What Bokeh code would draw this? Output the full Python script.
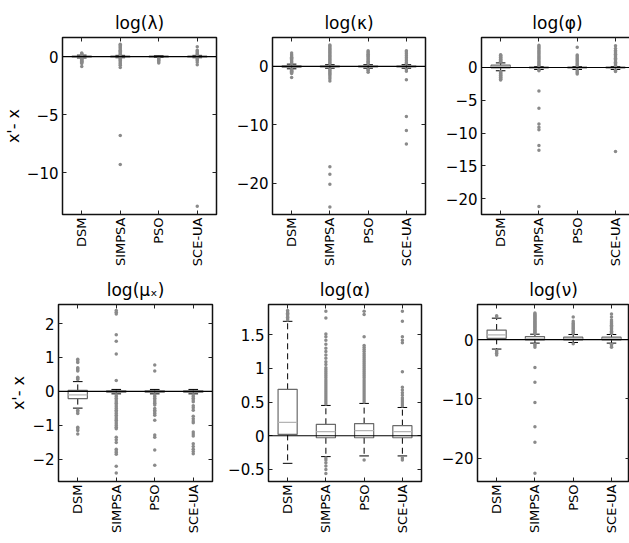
import math
from bokeh.plotting import figure
from bokeh.layouts import column, row
from bokeh.models import FixedTicker, Span, ColumnDataSource, LinearAxis
from bokeh.embed import file_html
from bokeh.resources import INLINE

CATEGORIES = ["DSM", "SIMPSA", "PSO", "SCE-UA"]

TITLES = ["log(λ)", "log(κ)", "log(φ)", "log(μₓ)", "log(α)", "log(ν)"]

# box statistics per category: [lower whisker, q1, median, q3, upper whisker]
LAM_STATS = [[-0.12, -0.04, 0.0, 0.04, 0.12], [-0.1, -0.03, 0.0, 0.03, 0.1],
             [-0.08, -0.03, 0.0, 0.03, 0.08], [-0.1, -0.03, 0.0, 0.03, 0.1]]
LAM_OUT = [[0.3, 0.25, 0.2, 0.16, -0.15, -0.2, -0.25, -0.3, -0.35, -0.4, -0.45, -0.5, -0.6, -0.85],
           [1.05, 0.95, 0.85, 0.75, 0.65, 0.55, 0.45, 0.35, 0.25, 0.17, -0.15, -0.25, -0.35, -0.45,
            -0.55, -0.65, -0.75, -0.95, -6.8, -9.3],
           [-0.12, -0.2, -0.28, -0.35, -0.45, -0.55],
           [0.85, 0.55, 0.45, 0.35, 0.25, 0.17, -0.15, -0.25, -0.35, -0.5, -0.7, -12.9]]

KAP_STATS = [[-0.4, -0.1, 0.0, 0.1, 0.4], [-0.3, -0.08, 0.0, 0.08, 0.3],
             [-0.3, -0.08, 0.0, 0.08, 0.3], [-0.3, -0.08, 0.0, 0.08, 0.3]]
KAP_OUT = [[2.3, 2.0, 1.8, 1.6, 1.4, 1.2, 1.0, 0.8, 0.6, 0.5, -0.5, -0.6, -0.7, -0.8, -0.9, -1.0, -1.2, -1.9],
           [3.7, 3.5, 3.3, 3.1, 2.9, 2.7, 2.5, 2.3, 2.1, 1.9, 1.7, 1.5, 1.3, 1.1, 0.9, 0.7, 0.5,
            -0.5, -0.7, -0.9, -1.1, -1.3, -1.5, -1.8, -2.1, -2.5, -17.2, -18.5, -20.2, -24.1],
           [2.7, 2.5, 2.3, 2.1, 1.9, 1.7, 1.5, 1.3, 1.1, 0.9, 0.7, 0.5, -0.5, -0.7, -1.0],
           [2.7, 2.5, 2.2, 1.9, 1.6, 1.3, 1.0, 0.7, 0.5, -0.5, -0.8, -2.3, -8.6, -11.0, -13.3]]

PHI_STATS = [[-0.5, -0.05, 0.15, 0.35, 0.7], [-0.3, -0.05, 0.0, 0.05, 0.15],
             [-0.3, -0.05, 0.0, 0.05, 0.15], [-0.3, -0.05, 0.0, 0.05, 0.15]]
PHI_OUT = [[0.85, 0.95, 1.05, 1.15, 1.25, 1.35, 1.45, 1.55, 1.65, 1.75, 1.85, 1.95,
            -0.6, -0.7, -0.8, -0.9, -1.0, -1.1, -1.2, -1.3, -1.4, -1.5, -1.6, -1.7, -1.8, -1.9],
           [3.4, 3.2, 3.0, 2.8, 2.6, 2.4, 2.2, 2.0, 1.8, 1.6, 1.4, 1.2, 1.0, 0.8, 0.6, 0.4, 0.25,
            -0.4, -0.5, -3.6, -6.2, -8.6, -9.1, -9.5, -11.9, -12.6, -21.2],
           [3.1, 1.9, 1.7, 1.5, 1.3, 1.1, 0.9, 0.7, 0.5, 0.3, -0.4, -0.6, -0.8, -1.0],
           [3.3, 2.9, 2.6, 2.4, 2.2, 2.0, 1.8, 1.6, 1.4, 1.2, 1.0, 0.8, 0.6, 0.4, 0.25,
            -0.4, -0.5, -0.6, -12.8]]

MU_STATS = [[-0.49, -0.21, -0.1, 0.03, 0.29], [-0.07, -0.02, 0.0, 0.02, 0.06],
            [-0.07, -0.02, 0.0, 0.02, 0.06], [-0.07, -0.02, 0.0, 0.02, 0.06]]
MU_OUT = [[0.35, 0.38, 0.42, 0.6, 0.63, 0.67, 0.7, 0.85, 0.9, 0.95,
           -0.55, -0.6, -0.65, -1.05, -1.1, -1.15, -1.25],
          [0.32, 1.1, 1.48, 1.67, 2.28, 2.33, 2.38,
           -0.1, -0.15, -0.2, -0.25, -0.3, -0.35, -0.4, -0.45, -0.5, -0.55, -0.6, -0.65, -0.7,
           -0.75, -0.8, -0.85, -0.9, -0.95, -1.0, -1.05, -1.1, -1.35, -1.42, -1.5,
           -1.7, -1.75, -1.8, -1.85, -2.2, -2.4],
          [0.6, 0.78, -0.1, -0.15, -0.2, -0.25, -0.3, -0.35, -0.4, -0.5, -0.55, -0.6, -0.65, -0.7,
           -0.85, -1.28, -1.35, -1.72, -2.17],
          [-0.1, -0.15, -0.2, -0.25, -0.3, -0.42, -0.48, -0.55, -0.73, -0.8, -0.87, -0.92,
           -1.19, -1.25, -1.31, -1.54, -1.62, -1.7, -1.77, -1.83]]

ALP_STATS = [[-0.41, 0.02, 0.2, 0.69, 1.7], [-0.31, -0.03, 0.06, 0.17, 0.45],
             [-0.3, -0.03, 0.075, 0.18, 0.48], [-0.3, -0.03, 0.06, 0.15, 0.42]]
ALP_OUT = [[1.72, 1.74, 1.76, 1.78, 1.8, 1.82, 1.84, 1.86],
           [0.47, 0.5, 0.53, 0.56, 0.59, 0.62, 0.65, 0.68, 0.71, 0.74, 0.77, 0.8, 0.83, 0.86, 0.89,
            0.92, 0.95, 0.98, 1.01, 1.06, 1.1, 1.15, 1.2, 1.25, 1.3, 1.36, 1.42, 1.47, 1.51,
            1.75, 1.85, -0.33, -0.36, -0.4, -0.45, -0.5, -0.56],
           [0.5, 0.53, 0.56, 0.59, 0.62, 0.65, 0.68, 0.71, 0.74, 0.77, 0.8, 0.83, 0.86, 0.89, 0.92,
            0.95, 0.98, 1.01, 1.04, 1.07, 1.1, 1.13, 1.16, 1.19, 1.22, 1.25, 1.28, 1.31, 1.34,
            1.47, 1.8, 1.85, -0.36],
           [0.44, 0.47, 0.5, 0.53, 0.56, 0.6, 0.64, 0.68, 0.72, 0.95, 1.38, 1.42, 1.47, 1.7, 1.85,
            -0.33, -0.36]]

NU_STATS = [[-1.6, 0.2, 0.8, 1.6, 3.6], [-0.6, -0.05, 0.1, 0.5, 0.9],
            [-0.5, -0.05, 0.1, 0.4, 0.85], [-0.6, -0.05, 0.1, 0.4, 0.85]]
NU_OUT = [[3.8, 4.0, -1.9, -2.1, -2.3, -2.6],
          [1.0, 1.15, 1.3, 1.45, 1.6, 1.75, 1.9, 2.05, 2.2, 2.35, 2.5, 2.65, 2.8, 2.95, 3.1,
           3.25, 3.4, 3.55, 3.7, 3.85, 4.0, 4.15, 4.3, 4.45, -0.8, -1.0, -1.3,
           -4.7, -7.2, -10.6, -14.7, -17.3, -22.5],
          [1.0, 1.2, 1.4, 1.6, 1.8, 2.0, 2.2, 2.4, 2.6, 2.8, 3.1, 3.8, -0.7],
          [1.0, 1.2, 1.4, 1.6, 1.8, 2.0, 2.2, 2.4, 2.6, 2.8, 3.0, 3.3, 3.8, 4.3, -0.8, -1.1, -1.3]]

Y_RANGES = [(-13.6, 1.64), (-25.4, 4.97), (-22.4, 4.57), (-2.65, 2.56), (-0.68, 1.95), (-23.9, 5.9)]
Y_TICKS = [[-10, -5, 0], [-20, -10, 0], [-20, -15, -10, -5, 0], [-2, -1, 0, 1, 2],
           [-0.5, 0, 0.5, 1, 1.5], [-20, -10, 0]]
Y_LABEL = "x'- x"

FONT = "DejaVu Sans"
BOX_COLOR = "#6a6a6a"
MED_COLOR = "#b4b4b4"
OUT_COLOR = "#8a8a8a"


def fmt(t):
    s = ("%g" % t)
    return s.replace("-", "\u2212")


def style_mirror(ax):
    ax.axis_line_color = None
    ax.major_tick_in = 4
    ax.major_tick_out = 0
    ax.major_tick_line_color = "#222222"
    ax.minor_tick_line_color = None
    ax.major_label_text_font_size = "0px"
    ax.major_label_standoff = 0


def make_panel(title, stats, outs, yr, yticks, ylabel, fw, fh, bl, br, bt, bb, xend):
    p = figure(frame_width=fw, frame_height=fh, x_range=(0.5, xend), y_range=yr,
               output_backend="svg", toolbar_location=None, tools="",
               min_border_left=bl, min_border_right=br, min_border_top=bt, min_border_bottom=bb)
    p.xgrid.visible = False
    p.ygrid.visible = False
    p.outline_line_color = "#111111"
    p.outline_line_width = 1.5
    p.background_fill_color = "white"
    p.border_fill_color = "white"

    p.title.text = title
    p.title.align = "center"
    p.title.text_font = FONT
    p.title.text_font_size = "17px"
    p.title.text_font_style = "normal"
    p.title.text_color = "black"

    xs = [i + 1 for i in range(len(CATEGORIES))]
    lo = [s[0] for s in stats]
    q1 = [s[1] for s in stats]
    md = [s[2] for s in stats]
    q3 = [s[3] for s in stats]
    hi = [s[4] for s in stats]
    src = ColumnDataSource(dict(x=xs, lo=lo, q1=q1, md=md, q3=q3, hi=hi,
                                xl=[x - 0.25 for x in xs], xr=[x + 0.25 for x in xs],
                                cl=[x - 0.125 for x in xs], cr=[x + 0.125 for x in xs]))

    zero = Span(location=0, dimension="width", line_color="black", line_width=1.2)
    p.add_layout(zero)

    p.segment(x0="x", y0="q3", x1="x", y1="hi", source=src, line_color="black",
              line_width=1, line_dash="6 4")
    p.segment(x0="x", y0="q1", x1="x", y1="lo", source=src, line_color="black",
              line_width=1, line_dash="6 4")
    p.segment(x0="cl", y0="hi", x1="cr", y1="hi", source=src, line_color="black", line_width=1)
    p.segment(x0="cl", y0="lo", x1="cr", y1="lo", source=src, line_color="black", line_width=1)
    p.quad(left="xl", right="xr", bottom="q1", top="q3", source=src, fill_color=None,
           line_color=BOX_COLOR, line_width=1.2)
    p.segment(x0="xl", y0="md", x1="xr", y1="md", source=src, line_color=MED_COLOR, line_width=1.2)

    ox, oy = [], []
    for x, vals in zip(xs, outs):
        for v in vals:
            ox.append(x)
            oy.append(v)
    p.scatter(ox, oy, size=3.5, fill_color=OUT_COLOR, line_color=None)

    p.xaxis.ticker = FixedTicker(ticks=xs)
    p.xaxis.major_label_overrides = {x: c for x, c in zip(xs, CATEGORIES)}
    p.xaxis.major_label_orientation = math.pi / 2
    p.xaxis.major_label_text_font = FONT
    p.xaxis.major_label_text_font_size = "13px"
    p.xaxis.major_label_text_color = "black"
    p.xaxis.major_label_standoff = 3

    p.yaxis.ticker = FixedTicker(ticks=yticks)
    p.yaxis.major_label_overrides = {t: fmt(t) for t in yticks}
    p.yaxis.major_label_text_font = FONT
    p.yaxis.major_label_text_font_size = "15px"
    p.yaxis.major_label_text_color = "black"
    p.yaxis.major_label_standoff = 4

    for ax in (p.xaxis[0], p.yaxis[0]):
        ax.axis_line_color = None
        ax.major_tick_in = 4
        ax.major_tick_out = 0
        ax.major_tick_line_color = "#222222"
        ax.minor_tick_line_color = None

    top_ax = LinearAxis(ticker=FixedTicker(ticks=xs),
                        major_label_overrides={x: "" for x in xs})
    style_mirror(top_ax)
    p.add_layout(top_ax, "above")
    right_ax = LinearAxis(ticker=FixedTicker(ticks=yticks),
                          major_label_overrides={t: "" for t in yticks})
    style_mirror(right_ax)
    p.add_layout(right_ax, "right")

    if ylabel:
        p.yaxis[0].axis_label = ylabel
        p.yaxis[0].axis_label_text_font = FONT
        p.yaxis[0].axis_label_text_font_size = "16px"
        p.yaxis[0].axis_label_text_font_style = "normal"
        p.yaxis[0].axis_label_text_color = "black"
        p.yaxis[0].axis_label_standoff = 1
    return p


ALL_STATS = [LAM_STATS, KAP_STATS, PHI_STATS, MU_STATS, ALP_STATS, NU_STATS]
ALL_OUT = [LAM_OUT, KAP_OUT, PHI_OUT, MU_OUT, ALP_OUT, NU_OUT]

COL_FW = [154, 153, 152]
COL_BL = [58, 46, 46]
COL_BR = [10, 10, 0]
COL_XEND = [4.5, 4.5, 4.47]
ROW_BT = [37, 30]
ROW_BB = [58, 56]

rows = []
for r in range(2):
    figs = []
    for c in range(3):
        i = r * 3 + c
        figs.append(make_panel(TITLES[i], ALL_STATS[i], ALL_OUT[i], Y_RANGES[i], Y_TICKS[i],
                               Y_LABEL if c == 0 else None, COL_FW[c], 177,
                               COL_BL[c], COL_BR[c], ROW_BT[r], ROW_BB[r], COL_XEND[c]))
    rows.append(row(*figs))

layout = column(*rows)
open("out.html", "w").write(file_html(layout, INLINE))
